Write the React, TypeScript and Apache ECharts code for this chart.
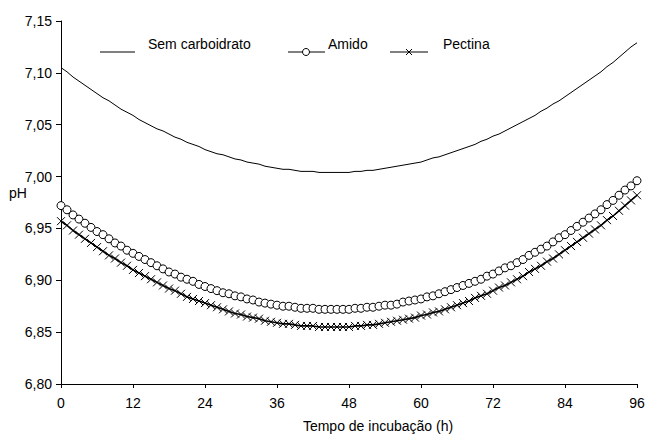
import React, { useEffect, useRef } from "react";
import * as echarts from "echarts";

const hours: number[] = Array.from({ length: 97 }, (_, i) => i);

const semCarboidrato: number[] = [
  7.105, 7.101, 7.096, 7.092, 7.088, 7.084, 7.080, 7.076, 7.073, 7.069,
  7.065, 7.062, 7.059, 7.055, 7.052, 7.049, 7.046, 7.044, 7.041, 7.038,
  7.036, 7.033, 7.031, 7.029, 7.026, 7.024, 7.022, 7.021, 7.019, 7.017,
  7.016, 7.014, 7.013, 7.012, 7.010, 7.009, 7.008, 7.007, 7.007, 7.006,
  7.005, 7.005, 7.005, 7.004, 7.004, 7.004, 7.004, 7.004, 7.004, 7.005,
  7.005, 7.006, 7.006, 7.007, 7.008, 7.009, 7.010, 7.011, 7.012, 7.013,
  7.014, 7.016, 7.018, 7.019, 7.021, 7.023, 7.025, 7.027, 7.029, 7.031,
  7.034, 7.036, 7.039, 7.041, 7.044, 7.047, 7.050, 7.053, 7.056, 7.059,
  7.063, 7.066, 7.070, 7.073, 7.077, 7.081, 7.085, 7.089, 7.093, 7.097,
  7.101, 7.106, 7.110, 7.115, 7.120, 7.125, 7.129,
];

const amido: number[] = [
  6.972, 6.968, 6.963, 6.959, 6.955, 6.951, 6.947, 6.944, 6.940, 6.936,
  6.933, 6.929, 6.926, 6.923, 6.920, 6.917, 6.914, 6.911, 6.908, 6.906,
  6.903, 6.901, 6.899, 6.896, 6.894, 6.892, 6.890, 6.888, 6.887, 6.885,
  6.884, 6.882, 6.881, 6.879, 6.878, 6.877, 6.876, 6.875, 6.875, 6.874,
  6.873, 6.873, 6.873, 6.872, 6.872, 6.872, 6.872, 6.872, 6.872, 6.873,
  6.873, 6.874, 6.874, 6.875, 6.876, 6.876, 6.877, 6.879, 6.880, 6.881,
  6.882, 6.884, 6.885, 6.887, 6.889, 6.891, 6.893, 6.895, 6.897, 6.899,
  6.901, 6.904, 6.906, 6.909, 6.912, 6.914, 6.917, 6.920, 6.924, 6.927,
  6.930, 6.933, 6.937, 6.941, 6.944, 6.948, 6.952, 6.956, 6.960, 6.964,
  6.968, 6.973, 6.977, 6.982, 6.987, 6.991, 6.996,
];

const pectina: number[] = [
  6.957, 6.953, 6.948, 6.944, 6.940, 6.936, 6.932, 6.928, 6.924, 6.921,
  6.917, 6.914, 6.910, 6.907, 6.904, 6.901, 6.898, 6.895, 6.892, 6.890,
  6.887, 6.884, 6.882, 6.880, 6.878, 6.876, 6.874, 6.872, 6.870, 6.868,
  6.867, 6.865, 6.864, 6.863, 6.861, 6.860, 6.859, 6.858, 6.858, 6.857,
  6.856, 6.856, 6.856, 6.855, 6.855, 6.855, 6.855, 6.855, 6.855, 6.856,
  6.856, 6.857, 6.857, 6.858, 6.859, 6.860, 6.861, 6.862, 6.863, 6.864,
  6.866, 6.867, 6.869, 6.870, 6.872, 6.874, 6.876, 6.878, 6.880, 6.883,
  6.885, 6.887, 6.890, 6.893, 6.895, 6.898, 6.901, 6.904, 6.908, 6.911,
  6.914, 6.918, 6.921, 6.925, 6.929, 6.933, 6.937, 6.941, 6.945, 6.949,
  6.953, 6.958, 6.962, 6.967, 6.972, 6.977, 6.982,
];

const seriesNames = ["Sem carboidrato", "Amido", "Pectina"];
const xAxisTitle = "Tempo de incubação (h)";
const yAxisTitle = "pH";

const FONT = "'Liberation Sans', Arial, sans-serif";
const X_MARK = "path://M0,0L10,10M10,0L0,10";

export default function App() {
  const ref = useRef<HTMLDivElement>(null);
  useEffect(() => {
    if (!ref.current) return;
    const chart = echarts.init(ref.current, undefined, { renderer: "svg" });
    const pair = (vals: number[]) => hours.map((h, i) => [h, vals[i]]);
    chart.setOption({
      animation: false,
      backgroundColor: "#fff",
      grid: { left: 61, right: 11, top: 21, bottom: 51, containLabel: false },
      xAxis: {
        type: "value",
        min: 0,
        max: 96,
        interval: 12,
        axisLine: { show: true, lineStyle: { color: "#000", width: 1 } },
        axisTick: { show: true, length: 4, lineStyle: { color: "#000" } },
        axisLabel: { color: "#000", fontSize: 14, fontFamily: FONT, margin: 12 },
        splitLine: { show: false },
      },
      yAxis: {
        type: "value",
        min: 6.8,
        max: 7.15,
        interval: 0.05,
        axisLine: { show: true, lineStyle: { color: "#000", width: 1 } },
        axisTick: { show: true, length: 5, lineStyle: { color: "#000" } },
        axisLabel: {
          color: "#000",
          fontSize: 14,
          fontFamily: FONT,
          margin: 9,
          formatter: (v: number) => v.toFixed(2).replace(".", ","),
        },
        splitLine: { show: false },
      },
      series: [
        {
          name: seriesNames[0],
          type: "line",
          data: pair(semCarboidrato),
          showSymbol: false,
          symbol: "none",
          lineStyle: { color: "#000", width: 1 },
          z: 2,
        },
        {
          name: seriesNames[2],
          type: "line",
          data: pair(pectina),
          symbol: X_MARK,
          symbolSize: 8,
          showAllSymbol: true,
          lineStyle: { color: "#000", width: 1.6 },
          itemStyle: { color: "rgba(0,0,0,0)", borderColor: "#000", borderWidth: 1 },
          z: 2,
        },
        {
          name: seriesNames[1],
          type: "line",
          data: pair(amido),
          symbol: "circle",
          symbolSize: 8,
          showAllSymbol: true,
          lineStyle: { color: "#000", width: 1 },
          itemStyle: { color: "#fff", borderColor: "#000", borderWidth: 1 },
          z: 3,
        },
      ],
      graphic: [
        { type: "text", left: 9, top: 186, style: { text: yAxisTitle, fontSize: 14, fontFamily: FONT, fill: "#000" } },
        { type: "text", x: 378, y: 426, style: { text: xAxisTitle, fontSize: 14, fontFamily: FONT, fill: "#000", align: "center", verticalAlign: "middle" } },
        // legend
        { type: "line", shape: { x1: 100, y1: 52, x2: 135, y2: 52 }, style: { stroke: "#000", lineWidth: 1 } },
        { type: "text", x: 148, y: 44, style: { text: seriesNames[0], fontSize: 14, fontFamily: FONT, fill: "#000", verticalAlign: "middle" } },
        { type: "line", shape: { x1: 288, y1: 52, x2: 325, y2: 52 }, style: { stroke: "#000", lineWidth: 1 } },
        { type: "circle", shape: { cx: 306, cy: 52, r: 3.5 }, style: { fill: "#fff", stroke: "#000", lineWidth: 1 } },
        { type: "text", x: 328, y: 44, style: { text: seriesNames[1], fontSize: 14, fontFamily: FONT, fill: "#000", verticalAlign: "middle" } },
        { type: "line", shape: { x1: 390, y1: 52, x2: 428, y2: 52 }, style: { stroke: "#000", lineWidth: 1 } },
        { type: "line", shape: { x1: 406, y1: 49, x2: 412, y2: 55 }, style: { stroke: "#000", lineWidth: 1 } },
        { type: "line", shape: { x1: 412, y1: 49, x2: 406, y2: 55 }, style: { stroke: "#000", lineWidth: 1 } },
        { type: "text", x: 443, y: 44, style: { text: seriesNames[2], fontSize: 14, fontFamily: FONT, fill: "#000", verticalAlign: "middle" } },
      ],
    });
    return () => chart.dispose();
  }, []);
  return (
    <div
      ref={ref}
      style={{ position: "fixed", left: 0, top: 0, width: 648, height: 435 }}
    />
  );
}
